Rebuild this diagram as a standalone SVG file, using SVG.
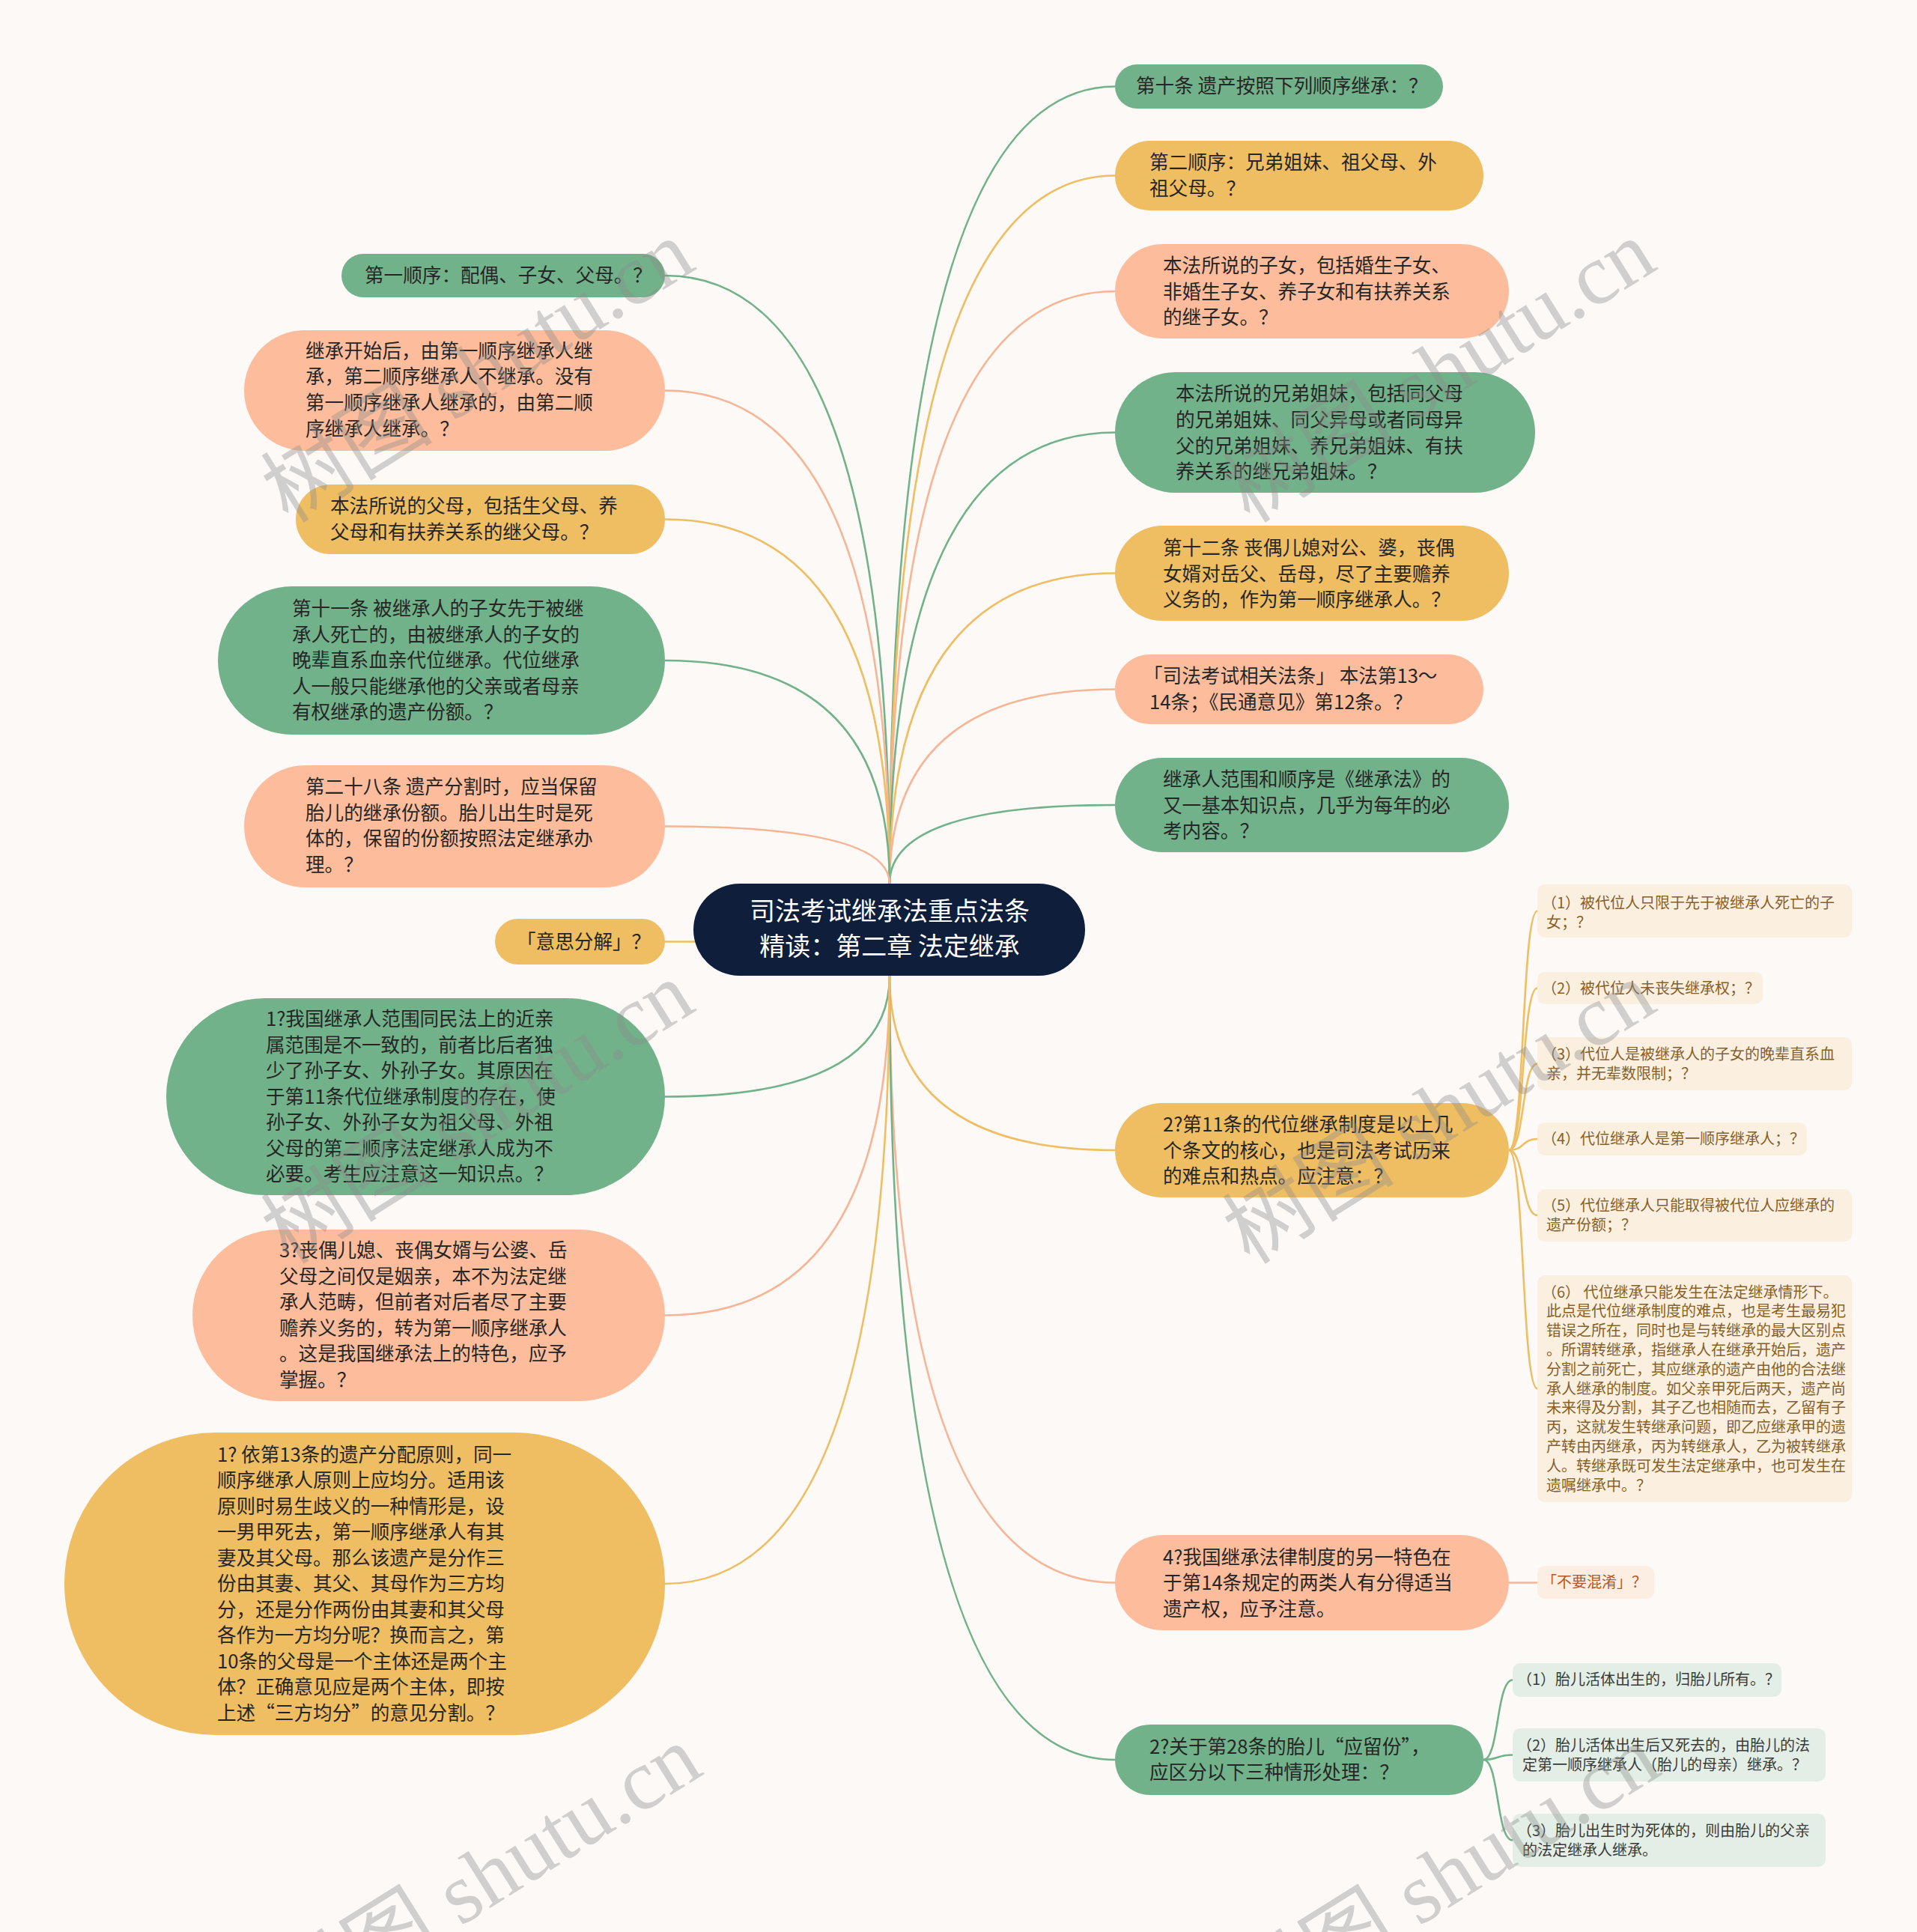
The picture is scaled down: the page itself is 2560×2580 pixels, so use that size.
<svg xmlns="http://www.w3.org/2000/svg" width="2560" height="2580" viewBox="0 0 2560 2580">
<style>
.bg{fill:#fcf9f7}
.g{fill:#72b28a}.y{fill:#efbd62}.s{fill:#fdbd9c}
.root{fill:#0e1e3b}
.t{font-family:"Noto Sans CJK SC","Liberation Sans",sans-serif;font-size:25.6px;fill:#262626}
.rt{font-family:"Noto Sans CJK SC","Liberation Sans",sans-serif;font-size:34px;fill:#ffffff;text-anchor:middle}
.ct{font-family:"Noto Sans CJK SC","Liberation Sans",sans-serif;font-size:20px}
.cy{fill:#fbf0df}.cyt{fill:#86612a}
.cs{fill:#fdeee4}.cst{fill:#b8571f}
.cg{fill:#e3efe6}.cgt{fill:#3a3a3a}
.lnk{fill:none;stroke-width:2.6}
.lg{stroke:#72b28a}.ly{stroke:#efbd62}.ls{stroke:#f7b596}
.wm{font-family:"Liberation Serif","Noto Sans CJK SC",serif;font-size:115px;fill:#8c8c8c;opacity:0.38}
</style>
<rect class="bg" x="0" y="0" width="2560" height="2580"/>
<g id="connectors">
<path class="lnk lg" d="M1188 1180 Q1188 115.5 1489 115.5"/>
<path class="lnk ly" d="M1188 1180 Q1188 234.5 1489 234.5"/>
<path class="lnk ls" d="M1188 1180 Q1188 389 1489 389"/>
<path class="lnk lg" d="M1188 1180 Q1188 577.5 1489 577.5"/>
<path class="lnk ly" d="M1188 1180 Q1188 765.5 1489 765.5"/>
<path class="lnk ls" d="M1188 1180 Q1188 920.5 1489 920.5"/>
<path class="lnk lg" d="M1188 1180 Q1188 1075 1489 1075"/>
<path class="lnk ly" d="M1188 1303 Q1188 1536 1489 1536"/>
<path class="lnk ls" d="M1188 1303 Q1188 2113.5 1489 2113.5"/>
<path class="lnk lg" d="M1188 1303 Q1188 2350 1489 2350"/>
<path class="lnk lg" d="M1188 1180 Q1188 368 888 368"/>
<path class="lnk ls" d="M1188 1180 Q1188 521.5 888 521.5"/>
<path class="lnk ly" d="M1188 1180 Q1188 693.5 888 693.5"/>
<path class="lnk lg" d="M1188 1180 Q1188 882 888 882"/>
<path class="lnk ls" d="M1188 1180 Q1188 1103.5 888 1103.5"/>
<path class="lnk ly" d="M1188 1241 Q1188 1257.5 888 1257.5"/>
<path class="lnk lg" d="M1188 1303 Q1188 1464.5 888 1464.5"/>
<path class="lnk ls" d="M1188 1303 Q1188 1756.5 888 1756.5"/>
<path class="lnk ly" d="M1188 1303 Q1188 2115 888 2115"/>
<path class="lnk ly" d="M2015 1536 C2036 1536 2032 1216.5 2053 1216.5"/>
<path class="lnk ly" d="M2015 1536 C2036 1536 2032 1319.5 2053 1319.5"/>
<path class="lnk ly" d="M2015 1536 C2036 1536 2032 1420.5 2053 1420.5"/>
<path class="lnk ly" d="M2015 1536 C2036 1536 2032 1521 2053 1521"/>
<path class="lnk ly" d="M2015 1536 C2036 1536 2032 1623 2053 1623"/>
<path class="lnk ly" d="M2015 1536 C2036 1536 2032 1854.5 2053 1854.5"/>
<path class="lnk ls" d="M2015 2113.5 L2053 2113.5"/>
<path class="lnk lg" d="M1981 2350 C2002 2350 1998 2243.5 2020 2243.5"/>
<path class="lnk lg" d="M1981 2350 C2002 2350 1998 2343.5 2020 2343.5"/>
<path class="lnk lg" d="M1981 2350 C2002 2350 1998 2457.5 2020 2457.5"/>
</g>
<g id="root">
<rect class="root" x="926" y="1180" width="523" height="123" rx="61.5"/>
<text class="rt" x="1188" y="1229">司法考试继承法重点法条</text>
<text class="rt" x="1188" y="1276">精读：第二章 法定继承</text>
</g>
<g id="r1"><rect class="g" x="1489" y="86" width="438" height="59" rx="29.5"/>
<text class="t" x="1517" y="124">第十条 遗产按照下列顺序继承：？</text></g>
<g id="r2"><rect class="y" x="1489" y="188" width="492" height="93" rx="46.5"/>
<text class="t" x="1535"><tspan x="1535" y="226">第二顺序：兄弟姐妹、祖父母、外</tspan><tspan x="1535" y="261">祖父母。？</tspan></text></g>
<g id="r3"><rect class="s" x="1489" y="326" width="526" height="126" rx="63"/>
<text class="t"><tspan x="1553" y="364">本法所说的子女，包括婚生子女、</tspan><tspan x="1553" y="399">非婚生子女、养子女和有扶养关系</tspan><tspan x="1553" y="433">的继子女。？</tspan></text></g>
<g id="r4"><rect class="g" x="1489" y="497" width="561" height="161" rx="80.5"/>
<text class="t"><tspan x="1570" y="535">本法所说的兄弟姐妹，包括同父母</tspan><tspan x="1570" y="570">的兄弟姐妹、同父异母或者同母异</tspan><tspan x="1570" y="605">父的兄弟姐妹、养兄弟姐妹、有扶</tspan><tspan x="1570" y="639">养关系的继兄弟姐妹。？</tspan></text></g>
<g id="r5"><rect class="y" x="1489" y="702" width="526" height="127" rx="63.5"/>
<text class="t"><tspan x="1553" y="741">第十二条 丧偶儿媳对公、婆，丧偶</tspan><tspan x="1553" y="776">女婿对岳父、岳母，尽了主要赡养</tspan><tspan x="1553" y="810">义务的，作为第一顺序继承人。？</tspan></text></g>
<g id="r6"><rect class="s" x="1489" y="874" width="492" height="93" rx="46.5"/>
<text class="t"><tspan x="1527" y="912">「司法考试相关法条」 本法第13～</tspan><tspan x="1535" y="947">14条；《民通意见》第12条。？</tspan></text></g>
<g id="r7"><rect class="g" x="1489" y="1012" width="526" height="126" rx="63"/>
<text class="t"><tspan x="1553" y="1050">继承人范围和顺序是《继承法》的</tspan><tspan x="1553" y="1085">又一基本知识点，几乎为每年的必</tspan><tspan x="1553" y="1119">考内容。？</tspan></text></g>
<g id="r8"><rect class="y" x="1489" y="1473" width="526" height="126" rx="63"/>
<text class="t"><tspan x="1553" y="1511">2?第11条的代位继承制度是以上几</tspan><tspan x="1553" y="1546">个条文的核心，也是司法考试历来</tspan><tspan x="1553" y="1580">的难点和热点。应注意：？</tspan></text></g>
<g id="r9"><rect class="s" x="1489" y="2050" width="526" height="127" rx="63.5"/>
<text class="t"><tspan x="1553" y="2089">4?我国继承法律制度的另一特色在</tspan><tspan x="1553" y="2123">于第14条规定的两类人有分得适当</tspan><tspan x="1553" y="2158">遗产权，应予注意。</tspan></text></g>
<g id="r10"><rect class="g" x="1489" y="2303" width="492" height="94" rx="47"/>
<text class="t"><tspan x="1535" y="2342">2?关于第28条的胎儿“应留份”，</tspan><tspan x="1535" y="2376">应区分以下三种情形处理：？</tspan></text></g>
<g id="l1"><rect class="g" x="456" y="339" width="432" height="58" rx="29"/>
<text class="t" x="487" y="377">第一顺序：配偶、子女、父母。？</text></g>
<g id="l2"><rect class="s" x="326" y="441" width="562" height="161" rx="80.5"/>
<text class="t"><tspan x="408" y="478">继承开始后，由第一顺序继承人继</tspan><tspan x="408" y="512">承，第二顺序继承人不继承。没有</tspan><tspan x="408" y="547">第一顺序继承人继承的，由第二顺</tspan><tspan x="408" y="582">序继承人继承。？</tspan></text></g>
<g id="l3"><rect class="y" x="395" y="647" width="493" height="93" rx="46.5"/>
<text class="t"><tspan x="441" y="685">本法所说的父母，包括生父母、养</tspan><tspan x="441" y="720">父母和有扶养关系的继父母。？</tspan></text></g>
<g id="l4"><rect class="g" x="291" y="783" width="597" height="198" rx="99"/>
<text class="t"><tspan x="390" y="822">第十一条 被继承人的子女先于被继</tspan><tspan x="390" y="857">承人死亡的，由被继承人的子女的</tspan><tspan x="390" y="891">晚辈直系血亲代位继承。代位继承</tspan><tspan x="390" y="926">人一般只能继承他的父亲或者母亲</tspan><tspan x="390" y="960">有权继承的遗产份额。？</tspan></text></g>
<g id="l5"><rect class="s" x="326" y="1022" width="562" height="163" rx="81.5"/>
<text class="t"><tspan x="408" y="1060">第二十八条 遗产分割时，应当保留</tspan><tspan x="408" y="1095">胎儿的继承份额。胎儿出生时是死</tspan><tspan x="408" y="1129">体的，保留的份额按照法定继承办</tspan><tspan x="408" y="1164">理。？</tspan></text></g>
<g id="l6"><rect class="y" x="661" y="1227" width="227" height="61" rx="30.5"/>
<text class="t" x="690" y="1267">「意思分解」？</text></g>
<g id="l7"><rect class="g" x="222" y="1333" width="666" height="263" rx="131.5"/>
<text class="t"><tspan x="355" y="1370">1?我国继承人范围同民法上的近亲</tspan><tspan x="355" y="1404.5">属范围是不一致的，前者比后者独</tspan><tspan x="355" y="1439">少了孙子女、外孙子女。其原因在</tspan><tspan x="355" y="1473.5">于第11条代位继承制度的存在，使</tspan><tspan x="355" y="1508">孙子女、外孙子女为祖父母、外祖</tspan><tspan x="355" y="1542.5">父母的第二顺序法定继承人成为不</tspan><tspan x="355" y="1577">必要。考生应注意这一知识点。？</tspan></text></g>
<g id="l8"><rect class="s" x="257" y="1642" width="631" height="229" rx="114.5"/>
<text class="t"><tspan x="373" y="1679">3?丧偶儿媳、丧偶女婿与公婆、岳</tspan><tspan x="373" y="1714">父母之间仅是姻亲，本不为法定继</tspan><tspan x="373" y="1748">承人范畴，但前者对后者尽了主要</tspan><tspan x="373" y="1783">赡养义务的，转为第一顺序继承人</tspan><tspan x="373" y="1817">。这是我国继承法上的特色，应予</tspan><tspan x="373" y="1852">掌握。？</tspan></text></g>
<g id="l9"><rect class="y" x="86" y="1913" width="802" height="404" rx="202"/>
<text class="t"><tspan x="290" y="1951.5">1? 依第13条的遗产分配原则，同一</tspan><tspan x="290" y="1986">顺序继承人原则上应均分。适用该</tspan><tspan x="290" y="2020.5">原则时易生歧义的一种情形是，设</tspan><tspan x="290" y="2055">一男甲死去，第一顺序继承人有其</tspan><tspan x="290" y="2089.5">妻及其父母。那么该遗产是分作三</tspan><tspan x="290" y="2124">份由其妻、其父、其母作为三方均</tspan><tspan x="290" y="2158.5">分，还是分作两份由其妻和其父母</tspan><tspan x="290" y="2193">各作为一方均分呢？换而言之，第</tspan><tspan x="290" y="2227.5">10条的父母是一个主体还是两个主</tspan><tspan x="290" y="2262">体？正确意见应是两个主体，即按</tspan><tspan x="290" y="2296.5">上述“三方均分”的意见分割。？</tspan></text></g>
<g id="c1"><rect class="cy" x="2053" y="1181" width="420" height="71" rx="10"/>
<text class="ct cyt"><tspan x="2059" y="1213">（1）被代位人只限于先于被继承人死亡的子</tspan><tspan x="2065" y="1239">女；？</tspan></text></g>
<g id="c2"><rect class="cy" x="2053" y="1298" width="301" height="43" rx="10"/>
<text class="ct cyt" x="2059" y="1327">（2）被代位人未丧失继承权；？</text></g>
<g id="c3"><rect class="cy" x="2053" y="1385" width="420" height="71" rx="10"/>
<text class="ct cyt"><tspan x="2059" y="1415">（3）代位人是被继承人的子女的晚辈直系血</tspan><tspan x="2065" y="1441">亲，并无辈数限制；？</tspan></text></g>
<g id="c4"><rect class="cy" x="2053" y="1499" width="360" height="44" rx="10"/>
<text class="ct cyt" x="2059" y="1528">（4）代位继承人是第一顺序继承人；？</text></g>
<g id="c5"><rect class="cy" x="2053" y="1588" width="420" height="70" rx="10"/>
<text class="ct cyt"><tspan x="2059" y="1617">（5）代位继承人只能取得被代位人应继承的</tspan><tspan x="2065" y="1643">遗产份额；？</tspan></text></g>
<g id="c6"><rect class="cy" x="2053" y="1703" width="420" height="303" rx="10"/>
<text class="ct cyt"><tspan x="2059" y="1732.5">（6） 代位继承只能发生在法定继承情形下。</tspan><tspan x="2065" y="1758.3">此点是代位继承制度的难点，也是考生最易犯</tspan><tspan x="2065" y="1784.1">错误之所在，同时也是与转继承的最大区别点</tspan><tspan x="2065" y="1809.9">。所谓转继承，指继承人在继承开始后，遗产</tspan><tspan x="2065" y="1835.7">分割之前死亡，其应继承的遗产由他的合法继</tspan><tspan x="2065" y="1861.5">承人继承的制度。如父亲甲死后两天，遗产尚</tspan><tspan x="2065" y="1887.3">未来得及分割，其子乙也相随而去，乙留有子</tspan><tspan x="2065" y="1913.1">丙，这就发生转继承问题，即乙应继承甲的遗</tspan><tspan x="2065" y="1938.9">产转由丙继承，丙为转继承人，乙为被转继承</tspan><tspan x="2065" y="1964.7">人。转继承既可发生法定继承中，也可发生在</tspan><tspan x="2065" y="1990.5">遗嘱继承中。？</tspan></text></g>
<g id="c7"><rect class="cs" x="2053" y="2091" width="156" height="44" rx="10"/>
<text class="ct cst" x="2059" y="2120">「不要混淆」？</text></g>
<g id="d1"><rect class="cg" x="2020" y="2221" width="359" height="45" rx="10"/>
<text class="ct cgt" x="2026" y="2250">（1）胎儿活体出生的，归胎儿所有。？</text></g>
<g id="d2"><rect class="cg" x="2020" y="2308" width="418" height="71" rx="10"/>
<text class="ct cgt"><tspan x="2026" y="2338">（2）胎儿活体出生后又死去的，由胎儿的法</tspan><tspan x="2033" y="2364">定第一顺序继承人（胎儿的母亲）继承。？</tspan></text></g>
<g id="d3"><rect class="cg" x="2020" y="2422" width="418" height="71" rx="10"/>
<text class="ct cgt"><tspan x="2026" y="2452">（3）胎儿出生时为死体的，则由胎儿的父亲</tspan><tspan x="2033" y="2478">的法定继承人继承。</tspan></text></g>
<g id="watermarks">
<text class="wm" x="385" y="700" transform="rotate(-32 385 700)">树图 shutu.cn</text>
<text class="wm" x="1669" y="700" transform="rotate(-32 1669 700)">树图 shutu.cn</text>
<text class="wm" x="385" y="1690" transform="rotate(-32 385 1690)">树图 shutu.cn</text>
<text class="wm" x="1669" y="1690" transform="rotate(-32 1669 1690)">树图 shutu.cn</text>
<text class="wm" x="395" y="2710" transform="rotate(-32 395 2710)">树图 shutu.cn</text>
<text class="wm" x="1675" y="2710" transform="rotate(-32 1675 2710)">树图 shutu.cn</text>
</g>
</svg>
